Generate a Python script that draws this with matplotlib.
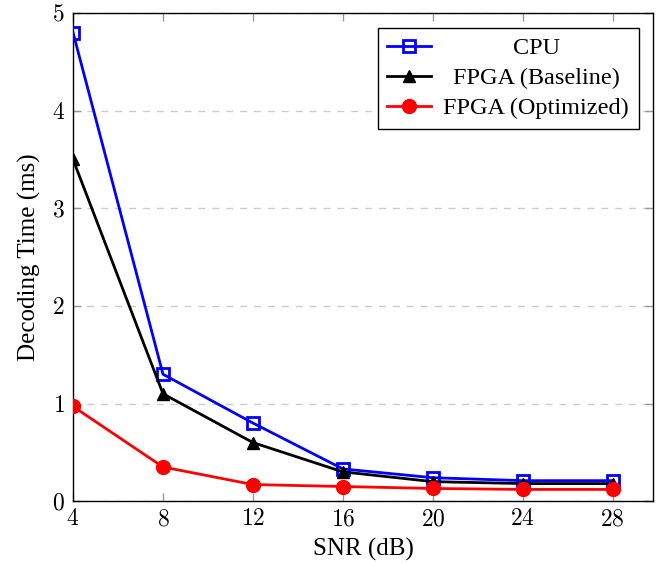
import matplotlib
matplotlib.use("Agg")
import matplotlib.pyplot as plt
from matplotlib.ticker import FixedLocator, FuncFormatter

snr = [4, 8, 12, 16, 20, 24, 28]
cpu = [4.8, 1.3, 0.8, 0.33, 0.24, 0.21, 0.21]
fpga_base = [3.5, 1.1, 0.6, 0.3, 0.2, 0.18, 0.18]
fpga_opt = [0.97, 0.35, 0.17, 0.15, 0.13, 0.12, 0.12]
labels = ["CPU", "FPGA (Baseline)", "FPGA (Optimized)"]

plt.rcParams['font.family'] = ['Liberation Serif', 'DejaVu Serif']
plt.rcParams['mathtext.fontset'] = 'cm'

fig = plt.figure(figsize=(6.7, 5.65), dpi=100)
ax = fig.add_axes([0.109, 0.113, 0.866, 0.864])

ax.plot(snr, cpu, color='blue', lw=2, marker='s', ms=8, mfc='none', mew=2, label=labels[0], zorder=3)
ax.plot(snr, fpga_base, color='black', lw=2, marker='^', ms=9, label=labels[1], zorder=3)
ax.plot(snr, fpga_opt, color='red', lw=2, marker='o', ms=10, label=labels[2], zorder=3)

ax.set_xlim(4, 29.8)
ax.set_ylim(0, 5)
ax.xaxis.set_major_locator(FixedLocator(snr))
ax.yaxis.set_major_locator(FixedLocator([0, 1, 2, 3, 4, 5]))
fmt = FuncFormatter(lambda v, p: r'$%d$' % v)
ax.xaxis.set_major_formatter(fmt)
ax.yaxis.set_major_formatter(fmt)
ax.tick_params(direction='in', length=6, width=1, color='#999999', labelsize=17,
               top=True, right=True)
ax.tick_params(axis='x', pad=6)
ax.tick_params(axis='y', pad=6)
ax.grid(axis='y', color='#cccccc', linestyle=(0, (5, 5)), lw=1)
for s in ax.spines.values():
    s.set_linewidth(1)

ax.set_xlabel('SNR (dB)', fontsize=18, labelpad=5)
ax.set_ylabel('Decoding Time (ms)', fontsize=18, labelpad=8)

leg = ax.legend(loc='upper right', fontsize=17.5, frameon=True, fancybox=False,
                edgecolor='black', framealpha=1, handlelength=1.8,
                borderaxespad=0.6, labelspacing=0.33, handletextpad=0.5,
                borderpad=0.4)
leg.get_frame().set_linewidth(1)

fig.canvas.draw()
r = fig.canvas.get_renderer()
texts = leg.get_texts()
widths = [t.get_window_extent(r).width for t in texts]
mw = max(widths)
for t, w in zip(texts, widths):
    t.set_x((mw - w) / 2)

fig.savefig('out.png', dpi=100)
